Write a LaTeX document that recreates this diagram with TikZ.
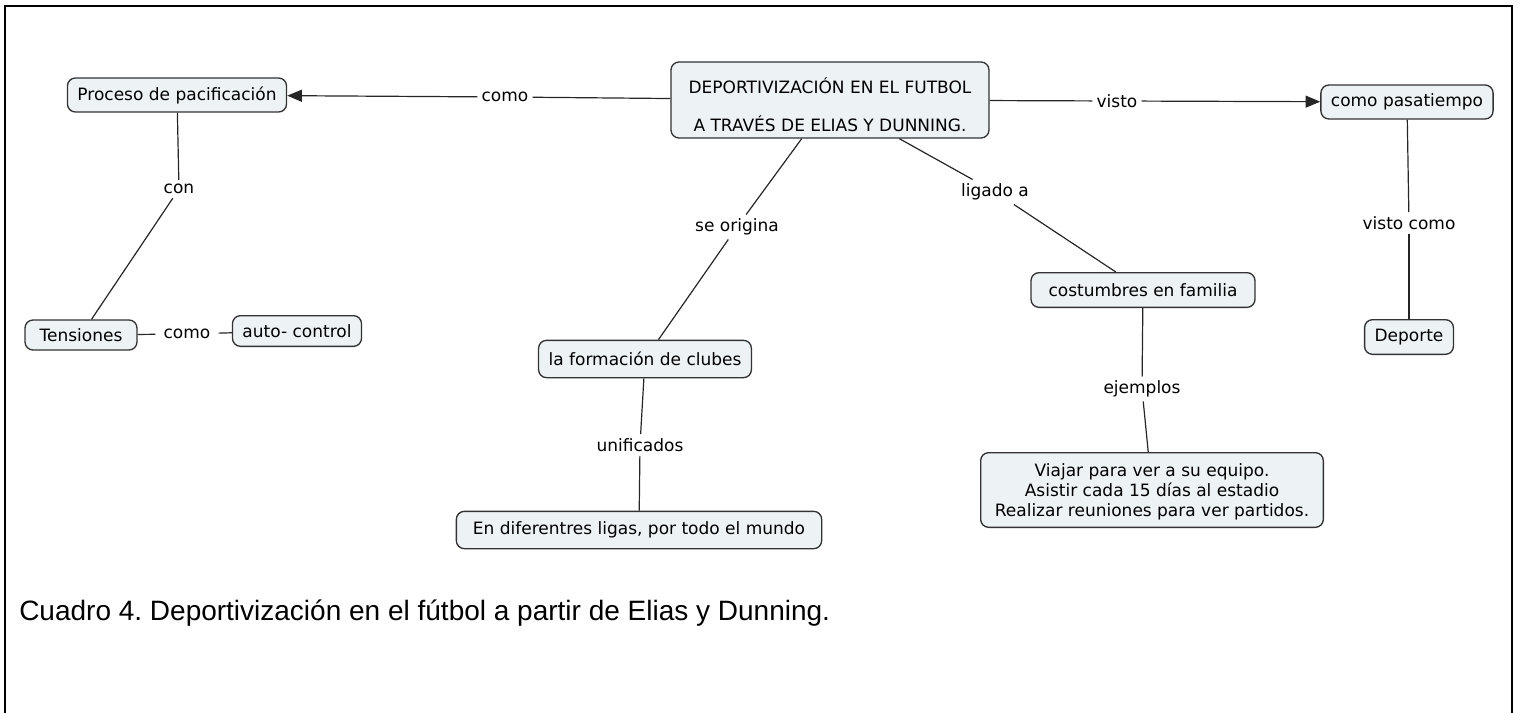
\documentclass[tikz,border=0pt]{standalone}
\usepackage{fontspec}
\usepackage{xcolor}
\usetikzlibrary{arrows.meta}
\newfontfamily\mapfont{DejaVu Sans}
\newfontfamily\capfont{Liberation Sans}
\definecolor{conceptfill}{HTML}{EDF2F5}
\definecolor{conceptline}{HTML}{333333}
\frenchspacing

\begin{document}
\begin{tikzpicture}[
			x=0.75pt, y=-0.75pt,
			concept/.style = {draw=conceptline, fill=conceptfill, line width=1pt,
					rounded corners=6pt, font=\mapfont\fontsize{12.75}{15}\selectfont,
					align=center, inner xsep=7.5pt, minimum height=25.5pt},
			linkword/.style = {font=\mapfont\fontsize{12.75}{15}\selectfont, inner sep=3pt},
			link/.style = {line width=0.9pt, draw=black!85},
			linkto/.style = {link, -{Triangle[length=11pt, width=9pt]}}
		]
		\useasboundingbox (0,0) rectangle (1518,713);
		\draw[line width=1.6pt] (5,713) -- (5,6) -- (1512,6) -- (1512,713);

		\node[concept, minimum width=238.5pt, minimum height=57pt,
			font=\mapfont\fontsize{12.75}{28.5}\selectfont] (main) at (830,100)
			{\rule{0pt}{18.5pt}DEPORTIVIZACIÓN EN EL FUTBOL\\A TRAVÉS DE ELIAS Y DUNNING.};
		\node[concept] (proceso) at (177,95) {Proceso de pacificación};
		\node[concept] (pasatiempo) at (1407,102) {como pasatiempo};
		\node[concept, minimum width=84pt, minimum height=22.5pt] (tensiones) at (81,335) {Tensiones};
		\node[concept, minimum height=23pt] (autocontrol) at (297,331) {auto- control};
		\node[concept, minimum height=28pt] (clubes) at (645,359) {la formación de clubes};
		\node[concept, minimum width=168pt, minimum height=26pt] (costumbres) at (1143,290) {costumbres en familia};
		\node[concept, minimum height=26pt] (deporte) at (1409,337) {Deporte};
		\node[concept, minimum width=274pt, minimum height=28pt] (ligas) at (639,530)
			{En diferentres ligas, por todo el mundo};
		\node[concept, minimum width=257pt, minimum height=56pt] (viajar) at (1152,490)
			{\rule{0pt}{13pt}Viajar para ver a su equipo.\\Asistir cada 15 días al estadio\\Realizar reuniones para ver partidos.};

		\node[linkword] (como) at (505,97) {como};
		\node[linkword] (visto) at (1117,101) {visto};
		\node[linkword] (con) at (179,189) {con};
		\node[linkword, inner xsep=6pt] (comob) at (187,334) {como};
		\node[linkword] (origina) at (737,227) {se origina};
		\node[linkword] (ligado) at (995,192) {ligado a};
		\node[linkword] (unificados) at (640,445) {unificados};
		\node[linkword] (ejemplos) at (1142,389) {ejemplos};
		\node[linkword] (vistocomo) at (1409,223) {visto como};

		\draw[link] (main) -- (como);
		\draw[linkto] (como) -- (proceso);
		\draw[link] (main) -- (visto);
		\draw[linkto] (visto) -- (pasatiempo);
		\draw[link] (proceso) -- (con);
		\draw[link] (con) -- (tensiones);
		\draw[link] (tensiones) -- (comob);
		\draw[link] (comob) -- (autocontrol);
		\draw[link] (main) -- (origina);
		\draw[link] (origina) -- (clubes);
		\draw[link] (main) -- (ligado);
		\draw[link] (ligado) -- (costumbres);
		\draw[link] (clubes) -- (unificados);
		\draw[link] (unificados) -- (ligas);
		\draw[link] (costumbres) -- (ejemplos);
		\draw[link] (ejemplos) -- (viajar);
		\draw[link] (pasatiempo) -- (vistocomo);
		\draw[link] (vistocomo) -- (deporte);

		\node[anchor=base west, inner sep=0pt, font=\capfont\fontsize{21}{25}\selectfont] (caption) at (19,620)
			{Cuadro 4. Deportivización en el fútbol a partir de Elias y Dunning.};
	\end{tikzpicture}
\end{document}
